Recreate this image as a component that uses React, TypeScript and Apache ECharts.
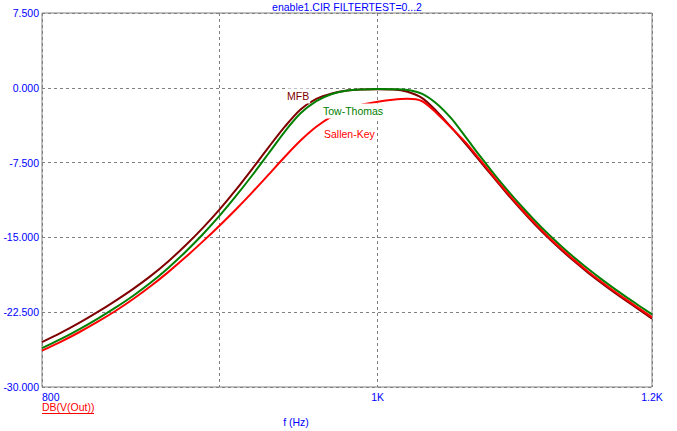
import React, { useEffect, useRef } from "react";
import * as echarts from "echarts";

const freqs = [
  800, 810, 820, 830, 840, 850, 860, 870, 880, 890, 900, 910, 920, 930, 940, 950,
  960, 970, 980, 990, 1000, 1010, 1020, 1030, 1040, 1050, 1060, 1070, 1080, 1090,
  1100, 1110, 1120, 1130, 1140, 1150, 1160, 1170, 1180, 1190, 1200,
];

const mfb = [
  -25.5, -24.58, -23.58, -22.5, -21.36, -20.16, -18.86, -17.41, -15.81, -14.09,
  -12.24, -10.24, -8.12, -5.97, -3.92, -2.17, -1.12, -0.57, -0.27, -0.17, -0.14,
  -0.17, -0.4, -1.03, -2.36, -3.95, -5.6, -7.3, -8.99, -10.65, -12.22, -13.69,
  -15.05, -16.29, -17.45, -18.53, -19.54, -20.49, -21.39, -22.26, -23.14,
];

const towThomas = [
  -26.1, -25.2, -24.22, -23.17, -22.05, -20.85, -19.53, -18.06, -16.46, -14.73,
  -12.87, -10.87, -8.77, -6.59, -4.41, -2.56, -1.34, -0.62, -0.26, -0.16, -0.13,
  -0.15, -0.22, -0.6, -1.59, -3.05, -4.9, -6.78, -8.57, -10.25, -11.83, -13.3,
  -14.66, -15.91, -17.07, -18.15, -19.16, -20.11, -21.01, -21.88, -22.72,
];

const sallenKey = [
  -26.35, -25.47, -24.51, -23.48, -22.38, -21.18, -19.88, -18.48, -17.0, -15.45,
  -13.85, -12.2, -10.48, -8.71, -6.94, -5.29, -3.91, -2.86, -2.18, -1.68, -1.4,
  -1.2, -1.11, -1.35, -2.55, -3.98, -5.45, -7.15, -8.87, -10.53, -12.1, -13.57,
  -14.93, -16.17, -17.33, -18.41, -19.42, -20.37, -21.27, -22.14, -23.0,
];

const xGridFreqs = [800, 900, 1000, 1200];
const xLabelFreqs = [800, 1000, 1200];
const yMin = -30;
const yMax = 7.5;
const yStep = 7.5;

const titleText = "enable1.CIR FILTERTEST=0...2";
const yAxisName = "DB(V(Out))";
const xAxisName = "f (Hz)";
const seriesNames = ["MFB", "Tow-Thomas", "Sallen-Key"];
const seriesColors = ["#800000", "#008000", "#ff0000"];

const FONT = "Liberation Sans, Arial, sans-serif";
const BLUE = "#0000ff";
const GRIDC = "#808080";

function fmtFreq(v: number): string {
  const f = Math.round(Math.pow(10, v));
  if (f >= 1000) return f / 1000 + "K";
  return String(f);
}

export default function App() {
  const ref = useRef<HTMLDivElement>(null);

  useEffect(() => {
    if (!ref.current) return;
    const chart = echarts.init(ref.current, undefined, { renderer: "svg" });
    const seriesData = [mfb, towThomas, sallenKey];
    const labelPos = [
      [286, 96],
      [322, 111],
      [323, 134],
    ];
    const option: any = {
      animation: false,
      backgroundColor: "#ffffff",
      grid: {
        left: 42,
        right: 25,
        top: 13,
        bottom: 44,
        show: true,
        borderColor: GRIDC,
        borderWidth: 1,
      },
      xAxis: {
        type: "value",
        min: Math.log10(800),
        max: Math.log10(1200),
        axisLine: { show: false },
        axisTick: {
          show: true,
          length: 0,
          customValues: xGridFreqs.map((f) => Math.log10(f)),
        },
        axisLabel: {
          customValues: xLabelFreqs.map((f) => Math.log10(f)),
          formatter: fmtFreq,
          color: BLUE,
          fontSize: 10.5,
          fontFamily: FONT,
          margin: 4,
          alignMinLabel: "left",
          showMinLabel: true,
          showMaxLabel: true,
        },
        splitLine: {
          show: true,
          lineStyle: { color: GRIDC, type: [3, 3], width: 1 },
        },
      },
      yAxis: {
        type: "value",
        min: yMin,
        max: yMax,
        interval: yStep,
        axisLine: { show: false },
        axisTick: { show: false },
        axisLabel: {
          formatter: (v: number) => v.toFixed(3),
          color: BLUE,
          fontSize: 10.5,
          fontFamily: FONT,
          margin: 3,
        },
        splitLine: {
          show: true,
          lineStyle: { color: GRIDC, type: [3, 3], width: 1 },
        },
      },
      series: seriesData.map((vals, i) => ({
        type: "line",
        name: seriesNames[i],
        data: freqs.map((f, j) => [Math.log10(f), vals[j]]),
        showSymbol: false,
        symbol: "none",
        smooth: 0.3,
        lineStyle: { color: seriesColors[i], width: 2 },
        itemStyle: { color: seriesColors[i] },
        z: 2 + i,
      })),
      graphic: [
        {
          type: "text",
          x: 347,
          y: 7,
          z: 100,
          style: {
            text: titleText,
            fill: BLUE,
            font: `10.5px ${FONT}`,
            align: "center",
            verticalAlign: "middle",
          },
        },
        ...seriesNames.map((n, i) => ({
          type: "text",
          x: labelPos[i][0],
          y: labelPos[i][1],
          z: 100,
          style: {
            text: n,
            fill: seriesColors[i],
            font: `10.5px ${FONT}`,
            align: "left",
            verticalAlign: "middle",
            backgroundColor: "#ffffff",
            padding: [2, 1, 2, 1],
          },
        })),
        {
          type: "text",
          x: 42,
          y: 407,
          z: 100,
          style: {
            text: yAxisName,
            fill: "#ff0000",
            font: `10.5px ${FONT}`,
            align: "left",
            verticalAlign: "middle",
          },
        },
        {
          type: "line",
          z: 100,
          shape: { x1: 42, y1: 413.5, x2: 94, y2: 413.5 },
          style: { stroke: "#ff0000", lineWidth: 1 },
        },
        {
          type: "text",
          x: 296,
          y: 422,
          z: 100,
          style: {
            text: xAxisName,
            fill: BLUE,
            font: `10.5px ${FONT}`,
            align: "center",
            verticalAlign: "middle",
          },
        },
      ],
    };
    chart.setOption(option);
    return () => {
      chart.dispose();
    };
  }, []);

  return (
    <div
      ref={ref}
      style={{ position: "absolute", left: 0, top: 0, width: 677, height: 431 }}
    />
  );
}
